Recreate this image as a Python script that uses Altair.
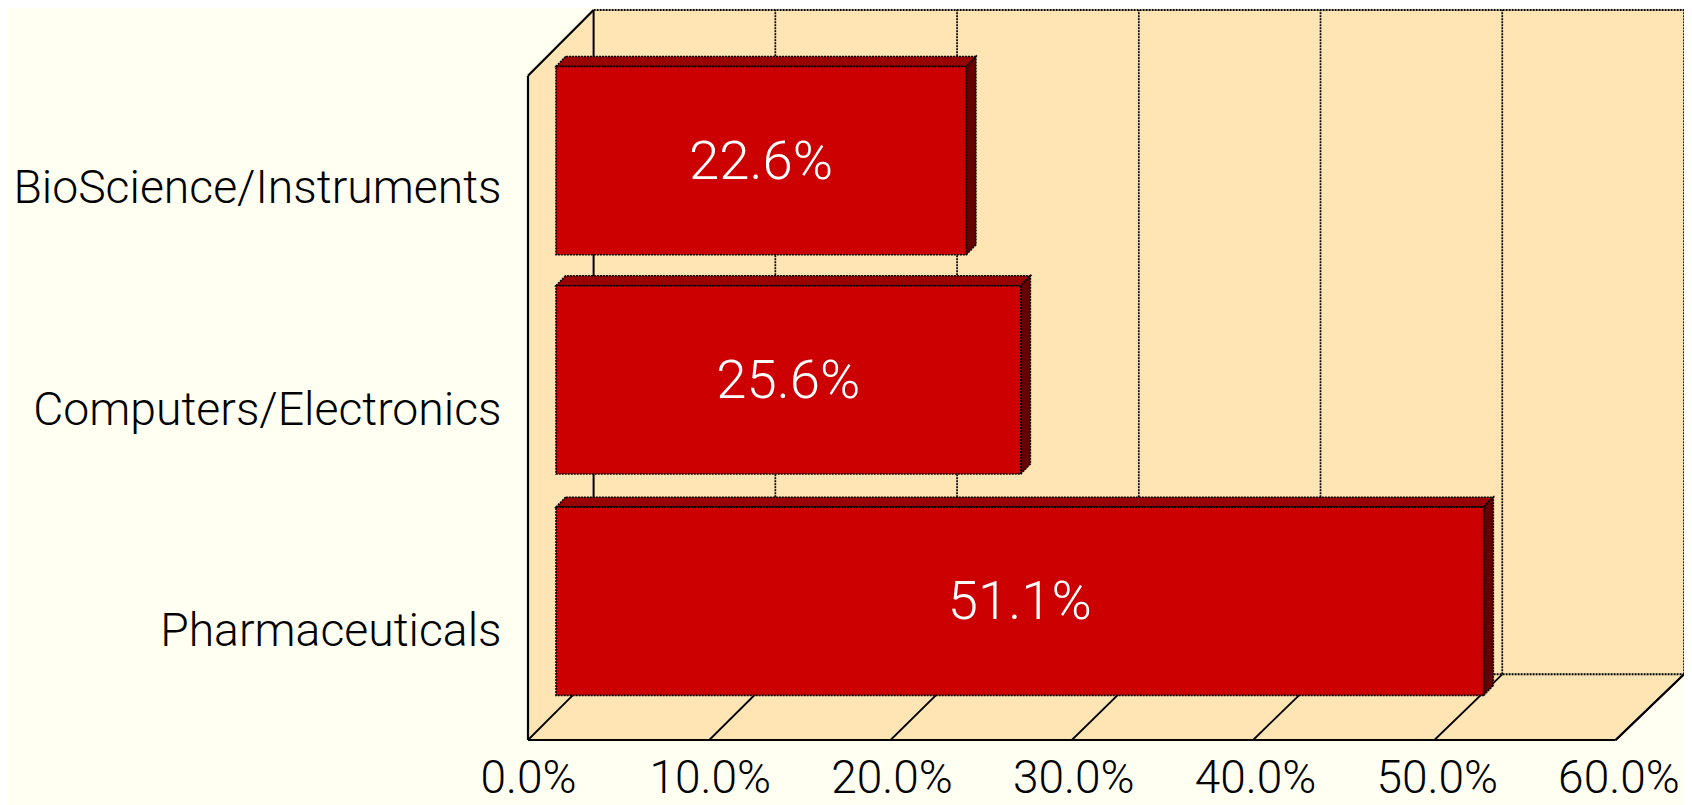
import altair as alt
import pandas as pd

categories = ["Pharmaceuticals", "Computers/Electronics", "BioScience/Instruments"]
values = [51.1, 25.6, 22.6]
labels = ["51.1%", "25.6%", "22.6%"]
x_ticks = [0, 10, 20, 30, 40, 50, 60]

BG = "#FFFFF2"
WALL = "#FFE5B4"
FRONT = "#CC0000"
TOP = "#990000"
SIDE = "#660000"
FONT = "Roboto"

# 3-D projection constants in data units
X_MAX = 60
Y_MAX = 3
DX = 3.61       # depth of the plot box, x units
DY = 0.2965     # depth of the plot box, y units
FRONT_X = 0.9975  # the front plane is drawn very slightly narrower than the back wall
BAR_X0 = 1.54   # how far bars sit behind the front plane
BAR_Y0 = 0.1265
BAR_DX = 0.53   # bar thickness
BAR_DY = 0.045
BAR_H = 0.85
BAR_X = 0.999
BAR_NUDGE = [0, 0, -0.01]

x_scale = alt.Scale(domain=[0, X_MAX + DX], nice=False, zero=False)
y_scale = alt.Scale(domain=[0, Y_MAX + DY], nice=False, zero=False)

name_expr = "datum.value < 1 ? '%s' : datum.value < 2 ? '%s' : '%s'" % tuple(categories)
x_axis = alt.Axis(
    values=x_ticks, labelExpr="format(datum.value, '.1f') + '%'", domain=False, ticks=False, grid=False,
    labelFont=FONT, labelFontWeight=300, labelFontSize=46, labelColor="#000000", labelPadding=16,
    labelOverlap=False, labelFlush=False, labelBound=False, title=None)
y_axis = alt.Axis(
    values=[0.49, 1.49, 2.49], labelExpr=name_expr, domain=False, ticks=False, grid=False,
    labelFont=FONT, labelFontWeight=300, labelFontSize=46.3, labelColor="#000000", labelPadding=27,
    labelOverlap=False, labelBound=False, labelLimit=700, title=None)

X = lambda f="x": alt.X(f"{f}:Q", scale=x_scale, title=None, axis=x_axis)
Y = lambda f="y": alt.Y(f"{f}:Q", scale=y_scale, title=None, axis=y_axis)

# walls and floor
back = pd.DataFrame([{"x": DX, "x2": X_MAX + DX, "y": DY, "y2": Y_MAX + DY}])
left = pd.DataFrame([{"x": 0, "y": 0, "y2": Y_MAX}, {"x": DX, "y": DY, "y2": Y_MAX + DY}])
floor = pd.DataFrame([{"y": 0, "x": 0, "x2": X_MAX * FRONT_X}, {"y": DY, "x": DX, "x2": X_MAX + DX}])

back_layer = alt.Chart(back).mark_rect(fill=WALL).encode(X(), x2="x2:Q", y=Y(), y2="y2:Q")
left_layer = alt.Chart(left).mark_area(fill=WALL).encode(X(), y=Y(), y2="y2:Q")
floor_layer = alt.Chart(floor).mark_area(fill=WALL, orient="horizontal").encode(y=Y(), x=X(), x2="x2:Q")

# grid on the back wall
grid_df = pd.DataFrame({"x": [t + DX for t in x_ticks], "y": DY, "y2": Y_MAX + DY})
grid = alt.Chart(grid_df.iloc[1:]).mark_rule(color="#000000", strokeWidth=1.7, strokeDash=[2, 1]).encode(X(), y=Y(), y2="y2:Q")
grid_first = alt.Chart(grid_df.iloc[:1]).mark_rule(color="#000000", strokeWidth=2).encode(X(), y=Y(), y2="y2:Q")

# diagonal floor lines
diag_df = pd.DataFrame({"x": [t * FRONT_X for t in x_ticks], "x2": [t + DX for t in x_ticks], "y": 0, "y2": DY})
diag = alt.Chart(diag_df).mark_rule(color="#000000", strokeWidth=1.8).encode(X(), x2="x2:Q", y=Y(), y2="y2:Q")

# outline of the box
edges_df = pd.DataFrame([
    {"x": 0, "x2": 0, "y": 0, "y2": Y_MAX},
    {"x": 0, "x2": X_MAX * FRONT_X, "y": 0, "y2": 0},
    {"x": 0, "x2": DX, "y": Y_MAX, "y2": Y_MAX + DY},
    {"x": X_MAX * FRONT_X, "x2": X_MAX + DX, "y": 0, "y2": DY},
])
edges = alt.Chart(edges_df).mark_rule(color="#000000", strokeWidth=2.2).encode(X(), x2="x2:Q", y=Y(), y2="y2:Q")
back_edges_df = pd.DataFrame([
    {"x": DX, "x2": X_MAX + DX, "y": Y_MAX + DY, "y2": Y_MAX + DY},
    {"x": DX, "x2": X_MAX + DX, "y": DY, "y2": DY},
])
back_edges = alt.Chart(back_edges_df).mark_rule(color="#000000", strokeWidth=2, strokeDash=[2, 1]).encode(X(), x2="x2:Q", y=Y(), y2="y2:Q")

# bars
fronts, tops, sides, texts = [], [], [], []
for i, (cat, v, lab) in enumerate(zip(categories, values, labels)):
    lo = i + 0.5 + BAR_Y0 + BAR_NUDGE[i] - BAR_H / 2
    hi = i + 0.5 + BAR_Y0 + BAR_NUDGE[i] + BAR_H / 2
    x0 = BAR_X0
    x1 = BAR_X0 + v * BAR_X
    fronts.append({"c": cat, "x": x0, "x2": x1, "y": lo, "y2": hi})
    tops += [{"c": cat, "y": hi, "x": x0, "x2": x1}, {"c": cat, "y": hi + BAR_DY, "x": x0 + BAR_DX, "x2": x1 + BAR_DX}]
    sides += [{"c": cat, "x": x1, "y": lo, "y2": hi}, {"c": cat, "x": x1 + BAR_DX, "y": lo + BAR_DY, "y2": hi + BAR_DY}]
    texts.append({"x": (x0 + x1) / 2, "y": (lo + hi) / 2, "t": lab})

outline = dict(stroke="#000000", strokeWidth=1.6, strokeDash=[2, 1])
top_layer = alt.Chart(pd.DataFrame(tops)).mark_area(fill=TOP, orient="horizontal", **outline).encode(
    y=Y(), x=X(), x2="x2:Q", detail="c:N")
side_layer = alt.Chart(pd.DataFrame(sides)).mark_area(fill=SIDE, **outline).encode(
    X(), y=Y(), y2="y2:Q", detail="c:N")
front_layer = alt.Chart(pd.DataFrame(fronts)).mark_rect(fill=FRONT, **outline).encode(
    X(), x2="x2:Q", y=Y(), y2="y2:Q")
text_layer = alt.Chart(pd.DataFrame(texts)).mark_text(
    color="#FFFFFF", font=FONT, fontWeight=300, fontSize=54.5, align="center", baseline="middle", dy=2
).encode(X(), y=Y(), text="t:N")

chart = alt.layer(
    back_layer, left_layer, floor_layer, grid, grid_first, diag, back_edges, edges,
    top_layer, side_layer, front_layer, text_layer,
).properties(
    width=1156, height=730, background=BG,
    padding={"left": 520, "top": 2, "right": 0, "bottom": 65},
    autosize=alt.AutoSizeParams(type="none"),
).configure_view(stroke=None)

chart.save("out.html", embed_options={"renderer": "svg", "actions": False})
